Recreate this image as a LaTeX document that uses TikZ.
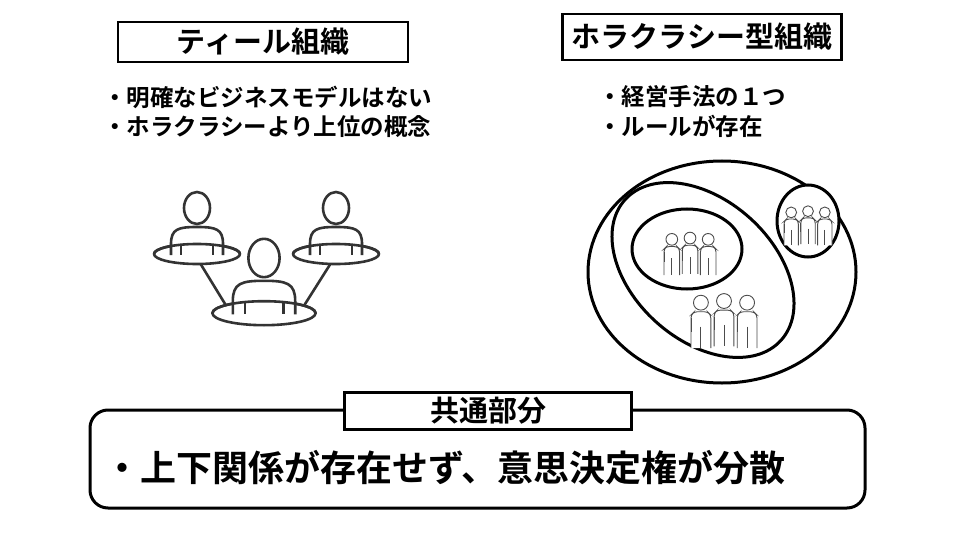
\documentclass[tikz,border=0pt]{standalone}
\usepackage{fontspec}
\setmainfont{Noto Sans CJK JP}[BoldFont={Noto Sans CJK JP Bold}]
\begin{document}
\begin{tikzpicture}[x=1pt,y=-1pt,
    titlebox/.style={draw, line width=2.5pt, fill=white, inner sep=0pt, font=\fontsize{29}{34}\selectfont\bfseries},
    note/.style={anchor=west, inner sep=0pt, font=\fontsize{23.5}{28}\selectfont\bfseries},
    ring/.style={draw, line width=3pt},
    icon/.style={draw=black!80, line width=2.6pt, line join=round},
    member/.style={draw=black!70, line width=0.9pt}
]
\useasboundingbox (0,0) rectangle (960,540);

% ティール組織
\node[titlebox, minimum width=290pt, minimum height=40pt] (teal) at (263,42) {ティール組織};
\node[note] (t1) at (103,97) {・明確なビジネスモデルはない};
\node[note] (t2) at (103,127) {・ホラクラシーより上位の概念};

% 人のアイコン
\draw[icon] (200,263) -- (230,312);
\draw[icon] (331,263) -- (300,312);
\foreach \px/\py/\s in {197/208/1, 336/208/1, 264/258/1.2} {
    \begin{scope}[shift={(\px,\py)}, scale=\s]
        \draw[icon, fill=white] (0,46) ellipse (43 and 10);
        \draw[icon, fill=white] (-26,47) -- (-26,36) .. controls (-26,21) and (-19,19) .. (0,19)
            .. controls (19,19) and (26,21) .. (26,36) -- (26,47);
        \draw[icon] (-16,37) -- (-16,47) (16,37) -- (16,47);
        \draw[icon] (-43,46) arc (180:360:43 and 10);
        \draw[icon, fill=white] (0,0) ellipse (13 and 16);
    \end{scope}
}

% ホラクラシー型組織
\node[titlebox, minimum width=279pt, minimum height=46pt] (holacracy) at (702,37) {ホラクラシー型組織};
\node[note] (h1) at (598,97) {・経営手法の１つ};
\node[note] (h2) at (598,126) {・ルールが存在};

\draw[ring] (722,272) ellipse (134 and 111);
\draw[ring, rotate around={-42:(703,270)}] (703,270) ellipse (105 and 70);
\draw[ring] (687,249) ellipse (55 and 40);
\draw[ring, fill=white] (808,221) ellipse (31 and 36);
\foreach \gx/\gy/\gs in {690/253/1.3, 724/320/1.65, 808/225/1.2} {
    \foreach \mx/\my in {-14/1, 14/1, 0/0} {
        \begin{scope}[shift={(\gx,\gy)}, scale=\gs, shift={(\mx,\my)}]
            \draw[member, fill=white, rounded corners=3pt]
                (-6,16) -- (-6,-4) -- (-4,-6) -- (4,-6) -- (6,-4) -- (6,16);
            \draw[member] (0,3) -- (0,16) (-6,-2) -- (-6,6);
            \draw[member, fill=white] (0,-11.5) circle (4.5);
        \end{scope}
    }
}

% 共通部分
\draw[line width=3pt, rounded corners=18pt] (90,410) rectangle (865,508);
\node[titlebox, minimum width=287pt, minimum height=37pt] (common) at (488,411) {共通部分};
\node[anchor=west, inner sep=0pt, font=\fontsize{36}{42}\selectfont\bfseries] (shared) at (104,468)
    {・上下関係が存在せず、意思決定権が分散};
\end{tikzpicture}
\end{document}
